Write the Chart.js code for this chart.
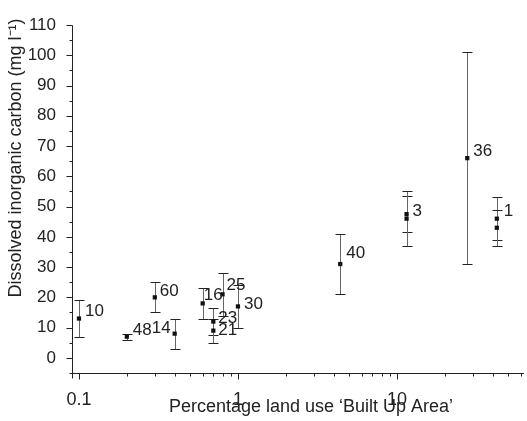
<!DOCTYPE html>
<html>
<head>
<meta charset="utf-8">
<script src="https://cdn.jsdelivr.net/npm/chart.js@4/dist/chart.umd.min.js"></script>
<style>
  html, body { margin: 0; padding: 0; background: #fff; }
  #wrap { width: 527px; height: 421px; }
</style>
</head>
<body>
<div id="wrap"><canvas id="chart" width="527" height="421"></canvas></div>
<script>
// site numbers (duplicates at the same x are labelled once)
const siteLabels = ['10', '48', '14', '60', '16', '25', '23', '21', '30', '40', '3', '', '36', '1', ''];
// percentage land use 'Built Up Area'
const builtUp = [0.1, 0.2, 0.4, 0.3, 0.6, 0.8, 0.7, 0.7, 1.0, 4.4, 11.5, 11.5, 27.7, 42.5, 42.5];
// dissolved inorganic carbon (mg l-1)
const dic = [13, 7, 8, 20, 18, 21, 12, 9, 17, 31, 47.5, 46, 66, 46, 43];
// +/- error
const dicErr = [6, 1, 5, 5, 5, 7, 4.5, 4, 7, 10, 6, 9, 35, 7, 6];

const yMajor = [0, 10, 20, 30, 40, 50, 60, 70, 80, 90, 100, 110];
const xMajor = [0.1, 1, 10];

// where each site number sits relative to its point (px)
const labelPlace = {
    '10': [6, -7], '48': [6, -6], '14': [-4, -5, 'right'], '60': [5, -6],
    '16': [1, -8], '25': [4, -9], '23': [5, -3], '21': [5, 0], '30': [6, -2],
    '40': [6, -11], '3': [6, -3], '36': [6, -7], '1': [7, -7]
};

const textColor = '#222';
const fontFamily = '"Liberation Sans", Arial, Helvetica, sans-serif';

// error bars + labels + own tick marks + axis titles
const extras = {
    id: 'extras',
    beforeDatasetsDraw(c) {
        const ctx = c.ctx, xs = c.scales.x, ys = c.scales.y;
        ctx.save();
        for (let i = 0; i < dic.length; i++) {
            const px = Math.round(xs.getPixelForValue(builtUp[i])) + 0.5;
            const top = Math.round(ys.getPixelForValue(dic[i] + dicErr[i])) + 0.5;
            const bot = Math.round(ys.getPixelForValue(dic[i] - dicErr[i])) + 0.5;
            ctx.strokeStyle = '#666';
            ctx.lineWidth = 1;
            ctx.beginPath();
            ctx.moveTo(px, top);
            ctx.lineTo(px, bot);
            ctx.stroke();
            ctx.strokeStyle = '#222';
            ctx.beginPath();
            ctx.moveTo(px - 5, top); ctx.lineTo(px + 5, top);
            ctx.moveTo(px - 5, bot); ctx.lineTo(px + 5, bot);
            ctx.stroke();
        }
        ctx.restore();
    },
    afterDraw(c) {
        const ctx = c.ctx, xs = c.scales.x, ys = c.scales.y, a = c.chartArea;
        ctx.save();
        // point labels
        ctx.fillStyle = textColor;
        ctx.font = '17px ' + fontFamily;
        ctx.textBaseline = 'middle';
        for (let i = 0; i < siteLabels.length; i++) {
            if (!siteLabels[i]) continue;
            const p = labelPlace[siteLabels[i]] || [6, -6];
            ctx.textAlign = p[2] || 'left';
            ctx.fillText(siteLabels[i], xs.getPixelForValue(builtUp[i]) + p[0], ys.getPixelForValue(dic[i]) + p[1]);
        }
        // axis lines
        ctx.strokeStyle = '#222';
        ctx.lineWidth = 1;
        const ax = Math.round(a.left) + 0.5, ay = Math.round(a.bottom) + 0.5;
        ctx.beginPath();
        ctx.moveTo(ax, Math.round(a.top) + 0.5); ctx.lineTo(ax, ay + 5);
        ctx.moveTo(ax, ay); ctx.lineTo(a.right, ay);
        // y ticks (major every 10, minor every 5)
        for (let v = -5; v <= 110; v += 5) {
            const py = Math.round(ys.getPixelForValue(v)) + 0.5;
            const len = v % 10 === 0 ? 6 : 3;
            ctx.moveTo(ax - len, py); ctx.lineTo(ax, py);
        }
        // x ticks (log decades)
        for (let d = 0.1; d <= 10; d *= 10) {
            for (let m = 1; m <= 9; m++) {
                const v = d * m;
                if (v > xs.max) break;
                const px = Math.round(xs.getPixelForValue(v)) + 0.5;
                const len = m === 1 ? 6 : 3;
                ctx.moveTo(px, ay); ctx.lineTo(px, ay + len);
            }
        }
        ctx.stroke();
        // axis titles
        ctx.fillStyle = textColor;
        ctx.font = '18px ' + fontFamily;
        ctx.textAlign = 'center';
        ctx.textBaseline = 'middle';
        ctx.fillText('Percentage land use \u2018Built Up Area\u2019', 311, 407);
        ctx.translate(16, 158);
        ctx.rotate(-Math.PI / 2);
        ctx.fillText('Dissolved inorganic carbon (mg l\u207B\u00B9)', 0, 0);
        ctx.restore();
    }
};

const chart = new Chart(document.getElementById('chart'), {
    type: 'scatter',
    data: {
        datasets: [{
            data: builtUp.map((x, i) => ({x: x, y: dic[i]})),
            pointStyle: 'rect',
            pointRadius: 3,
            pointHoverRadius: 3,
            pointBorderWidth: 0,
            backgroundColor: '#111',
            borderColor: '#111'
        }]
    },
    options: {
        responsive: false,
        animation: false,
        devicePixelRatio: 1,
        layout: {padding: {top: 25, right: 2, left: 0, bottom: 0}},
        plugins: {legend: {display: false}, tooltip: {enabled: false}},
        scales: {
            x: {
                type: 'logarithmic',
                min: 0.0904,
                max: 63,
                afterBuildTicks(s) { s.ticks = xMajor.map(v => ({value: v})); },
                afterFit(s) { s.height = 48; },
                grid: {display: false},
                border: {display: false},
                ticks: {
                    autoSkip: false,
                    maxRotation: 0,
                    padding: 8,
                    color: textColor,
                    font: {family: fontFamily, size: 18},
                    callback: v => String(v)
                }
            },
            y: {
                min: -5,
                max: 110,
                afterBuildTicks(s) { s.ticks = yMajor.map(v => ({value: v})); },
                afterFit(s) { s.width = 72; },
                grid: {display: false},
                border: {display: false},
                ticks: {
                    autoSkip: false,
                    padding: 8,
                    color: textColor,
                    font: {family: fontFamily, size: 17},
                    callback: v => String(v)
                }
            }
        }
    },
    plugins: [extras]
});
</script>
</body>
</html>
